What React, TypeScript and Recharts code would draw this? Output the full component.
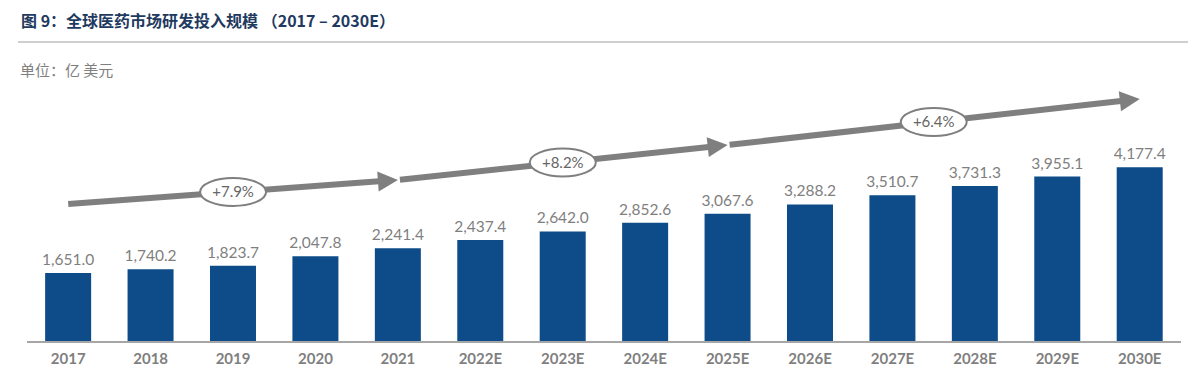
import { BarChart, Bar, XAxis, YAxis, LabelList, ReferenceLine } from 'recharts';

const years = ['2017', '2018', '2019', '2020', '2021', '2022E', '2023E', '2024E', '2025E', '2026E', '2027E', '2028E', '2029E', '2030E'];
const spending = [1651.0, 1740.2, 1823.7, 2047.8, 2241.4, 2437.4, 2642.0, 2852.6, 3067.6, 3288.2, 3510.7, 3731.3, 3955.1, 4177.4];

// growth arrows: from year, to year, start level, end level, label
const arrowFrom = ['2017', '2021', '2025E'];
const arrowTo = ['2021', '2025E', '2030E'];
const arrowStart = [3300, 3873, 4710];
const arrowEnd = [3873, 4710, 5809];
const arrowLabels = ['+7.9%', '+8.2%', '+6.4%'];

const data = years.map((year, i) => ({ year, value: spending[i] }));

const BAR = '#0d4c89';
const GREY = '#7f7f7f';
const ARROW = '#7f7f7f';

function fmt(v: number) {
  return v.toLocaleString('en-US', { minimumFractionDigits: 1, maximumFractionDigits: 1 });
}

// thick arrow with an oval growth label at its middle
function makeArrow(label: string, gapStart: number) {
  return (props: any) => {
    const { x1, y1, x2, y2 } = props;
    const dx = x2 - x1;
    const dy = y2 - y1;
    const len = Math.sqrt(dx * dx + dy * dy);
    const ux = dx / len;
    const uy = dy / len;
    const head = 20;
    const half = 10;
    const sx = x1 + ux * gapStart;
    const sy = y1 + uy * gapStart;
    const bx = x2 - ux * head;
    const by = y2 - uy * head;
    const mx = (x1 + x2) / 2;
    const my = (y1 + y2) / 2;
    return (
      <g>
        <line x1={sx} y1={sy} x2={bx + ux} y2={by + uy} stroke={ARROW} strokeWidth={6} />
        <polygon
          points={`${x2},${y2} ${bx - uy * half},${by + ux * half} ${bx + uy * half},${by - ux * half}`}
          fill={ARROW}
        />
        <ellipse cx={mx} cy={my} rx={33} ry={14} fill="#fff" stroke={ARROW} strokeWidth={2} />
        <text x={mx} y={my} dy="0.35em" textAnchor="middle" fontSize={15} fill="#666" fontFamily="Lato, sans-serif">
          {label}
        </text>
      </g>
    );
  };
}

export default function App() {
  return (
    <div style={{ position: 'absolute', left: 0, top: 0, width: 1200, height: 389, background: '#fff', overflow: 'hidden' }}>
      <div
        style={{
          position: 'absolute',
          left: 21,
          top: 8,
          fontFamily: '"Noto Sans CJK SC", sans-serif',
          fontWeight: 'bold',
          fontSize: 16,
          color: '#1f3a60',
          whiteSpace: 'nowrap',
          lineHeight: '24px',
        }}
      >
        图 9：全球医药市场研发投入规模 （2017 – 2030E）
      </div>
      <div style={{ position: 'absolute', left: 18, top: 41, width: 1170, height: 2, background: '#cfcfcf' }} />
      <div
        style={{
          position: 'absolute',
          left: 20,
          top: 58,
          fontFamily: '"Noto Sans CJK SC", sans-serif',
          fontSize: 15,
          color: GREY,
          whiteSpace: 'nowrap',
          lineHeight: '24px',
        }}
      >
        单位：亿 美元
      </div>
      <div style={{ position: 'absolute', left: 0, top: 0 }}>
        <BarChart
          width={1200}
          height={389}
          data={data}
          margin={{ top: 91, right: 19, left: 27, bottom: 0 }}
          barCategoryGap="22%"
        >
          <XAxis
            dataKey="year"
            height={47}
            tickLine={false}
            axisLine={{ stroke: '#a6a6a6', strokeWidth: 2 }}
            tick={{ fill: GREY, fontSize: 15, fontWeight: 'bold', fontFamily: 'Lato, sans-serif', dy: 3 }}
            interval={0}
          />
          <YAxis hide domain={[0, 6000]} />
          <Bar dataKey="value" fill={BAR} isAnimationActive={false}>
            <LabelList
              dataKey="value"
              position="top"
              offset={8}
              formatter={(v: any) => fmt(Number(v))}
              style={{ fill: GREY, fontSize: 15.5, fontFamily: 'Lato, sans-serif' }}
            />
          </Bar>
          {arrowLabels.map((label, i) => (
            <ReferenceLine
              key={label}
              segment={[
                { x: arrowFrom[i], y: arrowStart[i] },
                { x: arrowTo[i], y: arrowEnd[i] },
              ]}
              ifOverflow="visible"
              shape={makeArrow(label, i === 0 ? 0 : 2)}
            />
          ))}
        </BarChart>
      </div>
    </div>
  );
}
